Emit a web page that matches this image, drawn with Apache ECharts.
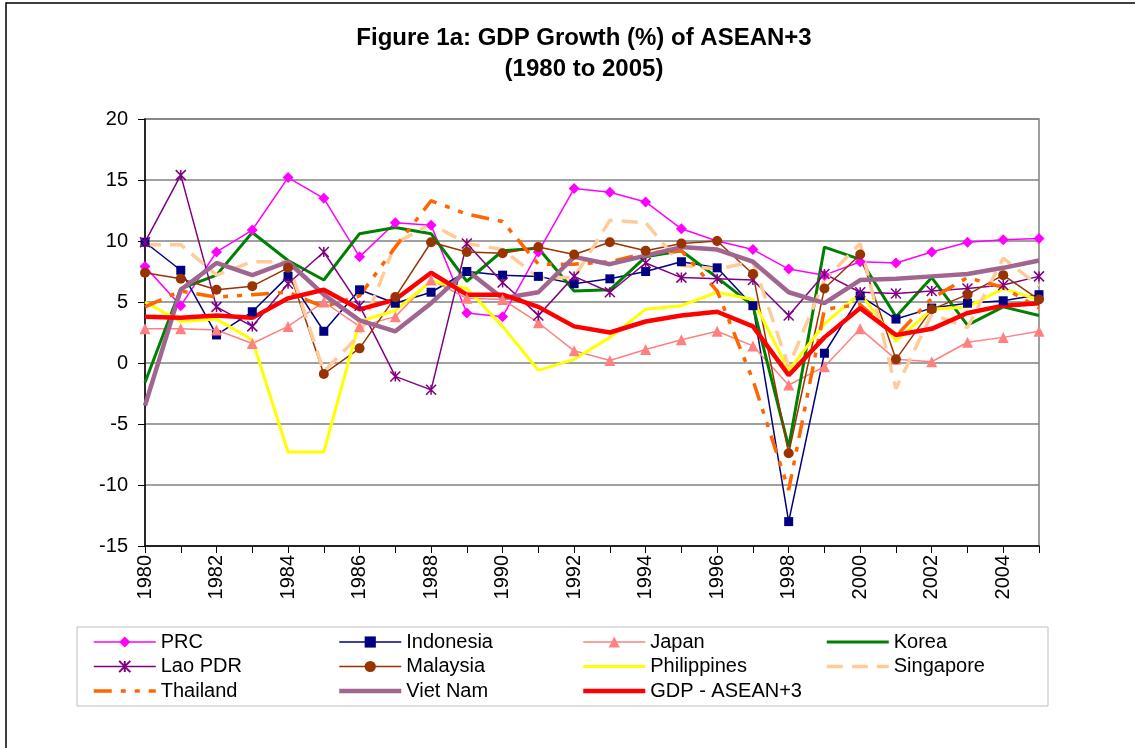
<!DOCTYPE html>
<html>
<head>
<meta charset="utf-8">
<script src="https://cdn.jsdelivr.net/npm/echarts@6/dist/echarts.min.js"></script>
<style>
  html, body { margin: 0; padding: 0; background: #fff; }
  #chart { width: 1135px; height: 748px; }
</style>
</head>
<body>
<div id="chart"></div>
<script>
var years = ['1980','1981','1982','1983','1984','1985','1986','1987','1988','1989','1990','1991','1992',
             '1993','1994','1995','1996','1997','1998','1999','2000','2001','2002','2003','2004','2005'];

var prc = [7.9, 4.7, 9.1, 10.9, 15.2, 13.5, 8.7, 11.5, 11.3, 4.1, 3.8, 9.1, 14.3, 14.0, 13.2, 11.0, 10.0, 9.3, 7.7, 7.2, 8.3, 8.2, 9.1, 9.9, 10.1, 10.2];
var indonesia = [9.9, 7.6, 2.3, 4.2, 7.1, 2.6, 6.0, 4.9, 5.8, 7.5, 7.2, 7.1, 6.5, 6.9, 7.5, 8.3, 7.8, 4.7, -13.0, 0.8, 5.5, 3.6, 4.5, 4.9, 5.1, 5.6];
var japan = [2.8, 2.8, 2.7, 1.6, 3.0, 5.0, 3.0, 3.8, 6.8, 5.3, 5.2, 3.3, 1.0, 0.2, 1.1, 1.9, 2.6, 1.4, -1.8, -0.3, 2.8, 0.3, 0.1, 1.7, 2.1, 2.6];
var korea = [-1.6, 6.1, 7.2, 10.7, 8.4, 6.8, 10.6, 11.1, 10.6, 6.7, 9.2, 9.4, 5.9, 6.0, 8.7, 9.2, 7.0, 4.7, -6.9, 9.5, 8.5, 3.8, 7.0, 3.1, 4.6, 3.9];
var lao = [9.9, 15.4, 4.6, 3.0, 6.5, 9.1, 4.7, -1.1, -2.2, 9.8, 6.6, 3.9, 7.1, 5.8, 8.2, 7.0, 6.9, 6.8, 3.9, 7.3, 5.8, 5.7, 5.9, 6.1, 6.4, 7.1];
var malaysia = [7.4, 6.9, 6.0, 6.3, 7.8, -0.9, 1.2, 5.4, 9.9, 9.1, 9.0, 9.5, 8.9, 9.9, 9.2, 9.8, 10.0, 7.3, -7.4, 6.1, 8.9, 0.3, 4.4, 5.6, 7.2, 5.2];
var philippines = [5.0, 3.4, 3.6, 1.9, -7.3, -7.3, 3.4, 4.3, 6.7, 6.1, 3.0, -0.6, 0.3, 2.1, 4.4, 4.7, 5.8, 5.2, -0.6, 3.2, 5.7, 1.8, 4.4, 4.6, 6.1, 5.2];
var singapore = [9.7, 9.7, 7.2, 8.3, 8.3, -0.7, 2.3, 9.8, 11.4, 9.8, 9.3, 7.0, 7.0, 11.7, 11.5, 8.0, 7.7, 8.3, -0.3, 6.8, 9.8, -2.1, 4.0, 2.9, 8.6, 6.3];
var thailand = [4.6, 5.9, 5.4, 5.6, 5.8, 4.6, 5.5, 9.5, 13.3, 12.2, 11.6, 8.1, 8.1, 8.3, 9.0, 9.2, 5.9, -1.4, -10.4, 4.4, 4.8, 2.2, 5.3, 7.0, 6.2, 4.5];
var vietnam = [-3.5, 6.0, 8.2, 7.2, 8.3, 5.6, 3.5, 2.6, 4.9, 7.6, 5.3, 5.8, 8.7, 8.1, 8.8, 9.5, 9.3, 8.3, 5.8, 4.9, 6.8, 6.9, 7.1, 7.3, 7.8, 8.4];
var gdpAsean3 = [3.8, 3.7, 3.9, 3.7, 5.3, 6.0, 4.4, 5.2, 7.4, 5.6, 5.6, 4.6, 3.0, 2.5, 3.4, 3.9, 4.2, 3.0, -1.0, 2.1, 4.5, 2.3, 2.8, 4.1, 4.7, 4.9];

var FONT = 'Liberation Sans, Arial, sans-serif';
var asterisk = 'path://M0,0L10,10M10,0L0,10M5,0L5,10';

// line widths, used by both the series and their legend samples
var widths = {
  'PRC': 1.5, 'Indonesia': 1.5, 'Japan': 1.5, 'Korea': 3, 'Lao PDR': 1.5, 'Malaysia': 1.5,
  'Philippines': 3, 'Singapore': 3.5, 'Thailand': 3.5, 'Viet Nam': 4.5, 'GDP - ASEAN+3': 4.5
};

function lineSeries(name, data, color, opts) {
  opts = opts || {};
  var hasSymbol = !!opts.symbol;
  return {
    name: name,
    type: 'line',
    data: data,
    symbol: opts.symbol || 'circle',
    symbolSize: opts.size || 4,
    showSymbol: hasSymbol,
    lineStyle: { color: color, width: widths[name], type: opts.dash || 'solid', cap: 'butt' },
    // plain lines keep an invisible marker so the legend shows only the line
    itemStyle: opts.itemStyle || { color: hasSymbol ? color : 'rgba(0,0,0,0)', borderWidth: 0 },
    emphasis: { disabled: true },
    animation: false
  };
}

function legendCol(names, left) {
  return {
    data: names.map(function (n) { return { name: n, lineStyle: { width: widths[n] } }; }),
    orient: 'vertical',
    left: left,
    top: 627,
    itemWidth: 62,
    itemHeight: 14,
    itemGap: 4.5,
    textStyle: { fontFamily: FONT, fontSize: 20, color: '#000' }
  };
}

var chart = echarts.init(document.getElementById('chart'));
chart.setOption({
  backgroundColor: '#fff',
  title: {
    text: 'Figure 1a: GDP Growth (%) of ASEAN+3\n(1980 to 2005)',
    left: 579,
    textAlign: 'center',
    top: 18,
    textStyle: { fontFamily: FONT, fontSize: 24, fontWeight: 'bold', color: '#000', lineHeight: 31 }
  },
  graphic: [
    { type: 'rect', shape: { x: 6, y: 3, width: 1150, height: 770 },
      style: { fill: 'none', stroke: '#000', lineWidth: 1.5 }, silent: true },
    { type: 'rect', shape: { x: 77, y: 627, width: 971, height: 79 },
      style: { fill: 'none', stroke: '#c0c0c0', lineWidth: 1 }, silent: true }
  ],
  legend: [
    legendCol(['PRC', 'Lao PDR', 'Thailand'], 87),
    legendCol(['Indonesia', 'Malaysia', 'Viet Nam'], 332),
    legendCol(['Japan', 'Philippines', 'GDP - ASEAN+3'], 576),
    legendCol(['Korea', 'Singapore'], 820)
  ],
  grid: {
    left: 145, right: 96, top: 119, bottom: 202,
    show: true, borderColor: '#808080', borderWidth: 1.5
  },
  xAxis: {
    type: 'category',
    data: years,
    boundaryGap: false,
    axisLine: { onZero: false, lineStyle: { color: '#000', width: 1.5 } },
    axisTick: { show: true, interval: 0, length: 7, lineStyle: { color: '#000' } },
    axisLabel: { interval: 1, rotate: 90, margin: 9, fontFamily: FONT, fontSize: 20, color: '#000' },
    splitLine: { show: false }
  },
  yAxis: {
    type: 'value',
    min: -15, max: 20, interval: 5,
    axisLine: { show: true, lineStyle: { color: '#000', width: 1.5 } },
    axisTick: { show: true, length: 7, lineStyle: { color: '#000' } },
    axisLabel: { margin: 17, fontFamily: FONT, fontSize: 20, color: '#000' },
    splitLine: { lineStyle: { color: '#808080', width: 1.5 } }
  },
  series: [
    lineSeries('PRC', prc, '#ff00ff', { symbol: 'diamond', size: 11 }),
    lineSeries('Indonesia', indonesia, '#000080', { symbol: 'rect', size: 9 }),
    lineSeries('Japan', japan, '#ff8080', { symbol: 'triangle', size: 11 }),
    lineSeries('Korea', korea, '#008000'),
    lineSeries('Lao PDR', lao, '#800080', { symbol: asterisk, size: 10,
      itemStyle: { color: '#800080', borderColor: '#800080', borderWidth: 1.5 } }),
    lineSeries('Malaysia', malaysia, '#993300', { symbol: 'circle', size: 10 }),
    lineSeries('Philippines', philippines, '#ffff00'),
    lineSeries('Singapore', singapore, '#ffcc99', { dash: [16, 9] }),
    lineSeries('Thailand', thailand, '#ff6600', { dash: [18, 9, 5, 9, 5, 9] }),
    lineSeries('Viet Nam', vietnam, '#a0668f'),
    lineSeries('GDP - ASEAN+3', gdpAsean3, '#ff0000')
  ]
});
</script>
</body>
</html>
